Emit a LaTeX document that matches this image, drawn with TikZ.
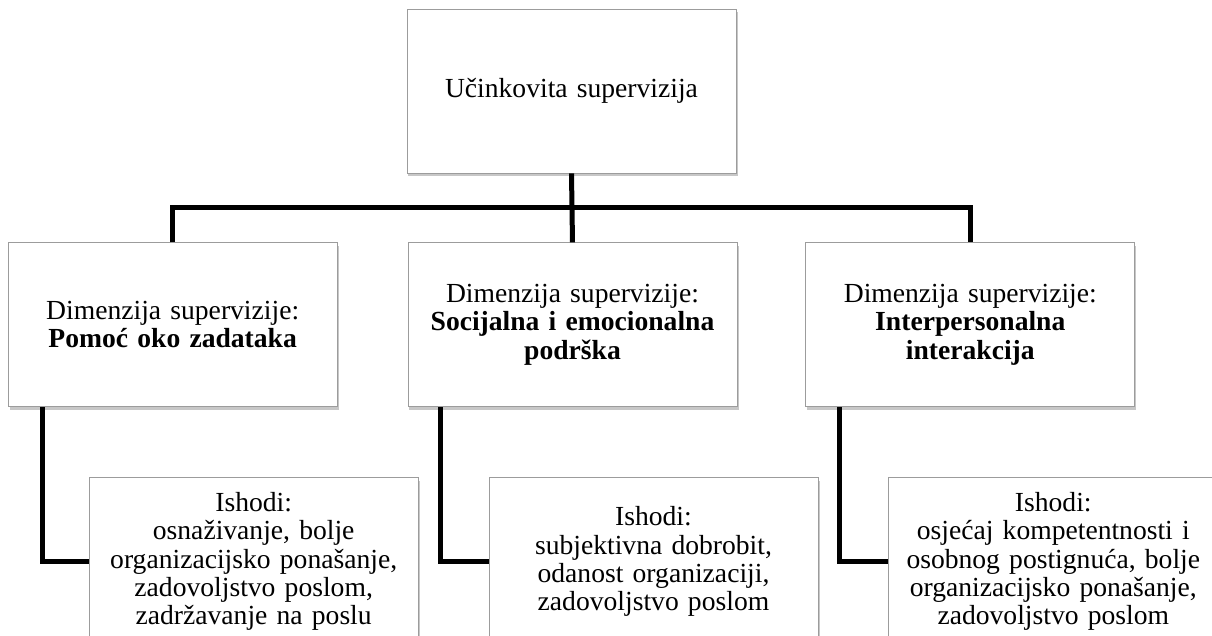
\documentclass[tikz,border=0pt]{standalone}
\usepackage{fontspec}
\setmainfont{Liberation Serif}
\usetikzlibrary{positioning,shadows}
\definecolor{edgegray}{HTML}{9C9C9C}
\tikzset{
  box/.style  = {rectangle, draw=edgegray, fill=white, line width=0.8pt,
                 minimum width=329pt, minimum height=164pt, text width=318pt,
                 align=center, inner sep=4pt, font=\fontsize{27.6}{28.3}\selectfont,
                 drop shadow={shadow xshift=1.5pt, shadow yshift=-3pt, fill=black, opacity=0.22}},
  outbox/.style = {box, minimum height=168pt},
  link/.style = {line width=5pt, draw=black},
}

\begin{document}
\begin{tikzpicture}[node distance=69pt]
  \useasboundingbox (-571.5pt,91pt) rectangle (640.5pt,-545pt);
  % top of the tree
  \node[box] (goal) {Učinkovita supervizija};
  % the three dimensions
  \node[box, below=of goal, xshift=1pt] (dimmid)
    {Dimenzija supervizije:\\\textbf{Socijalna i emocionalna}\\\textbf{podrška}};
  \node[box, left=70pt of dimmid] (dimleft)
    {Dimenzija supervizije:\\\textbf{Pomoć oko zadataka}};
  \node[box, right=68pt of dimmid] (dimright)
    {Dimenzija supervizije:\\\textbf{Interpersonalna}\\\textbf{interakcija}};
  % outcomes
  \node[outbox, below=70pt of dimleft, xshift=81pt] (outleft)
    {Ishodi:\\osnaživanje, bolje\\organizacijsko ponašanje,\\zadovoljstvo poslom,\\zadržavanje na poslu};
  \node[outbox, below=70pt of dimmid, xshift=81pt] (outmid)
    {Ishodi:\\subjektivna dobrobit,\\odanost organizaciji,\\zadovoljstvo poslom};
  \node[outbox, below=70pt of dimright, xshift=83pt] (outright)
    {Ishodi:\\osjećaj kompetentnosti i\\osobnog postignuća, bolje\\organizacijsko ponašanje,\\zadovoljstvo poslom};
  % connectors
  \draw[link] (goal.south) -- (dimmid.north);
  \draw[link] (dimleft.north) -- ++(0,35pt) -| (dimright.north);
  \draw[link] ([xshift=35pt]dimleft.south west) |- (outleft.west);
  \draw[link] ([xshift=33pt]dimmid.south west) |- (outmid.west);
  \draw[link] ([xshift=34pt]dimright.south west) |- (outright.west);
\end{tikzpicture}
\end{document}
